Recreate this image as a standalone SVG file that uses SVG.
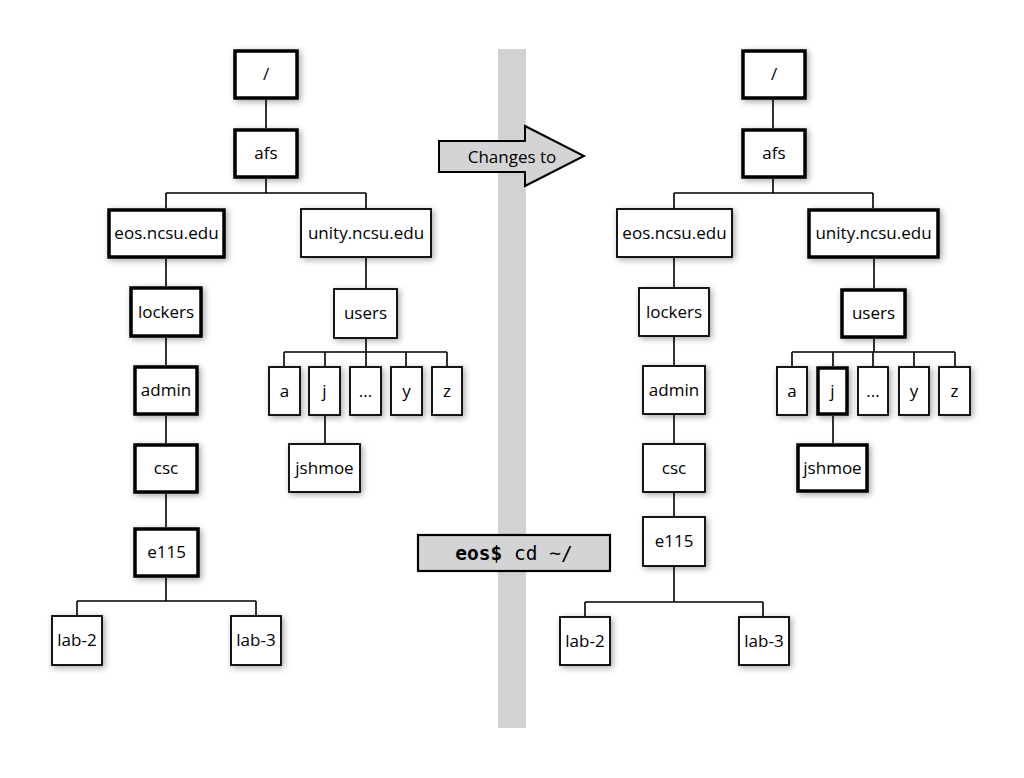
<svg xmlns="http://www.w3.org/2000/svg" width="1024" height="778" viewBox="0 0 1024 778">
<defs>
<filter id="sh" x="-30%" y="-30%" width="160%" height="160%">
<feDropShadow dx="2" dy="2" stdDeviation="3" flood-color="#000" flood-opacity="0.35"/>
</filter>
</defs>
<style>
.n rect{fill:#fff;stroke:#000;filter:url(#sh)}
.thk rect{stroke-width:3.5}
.thn rect{stroke-width:1.8}
text{font-family:"Open Sans","Liberation Sans",sans-serif;font-size:17px;fill:#000;text-anchor:middle}
#connectors path{fill:none;stroke:#000;stroke-width:1.6}
</style>
<rect id="divider" x="498" y="49" width="28" height="679" fill="#d1d2d4"/>
<g id="connectors">
<path d="M266 100V128M266 179V193M166 193H366M166 193V208M366 193V208"/>
<path d="M166 259V286M166 338V365M166 416V443M166 494V527M166 578V601M77 601H256M77 601V615M256 601V615"/>
<path d="M366 258V288M366 339V352M284 352H447M284 352V366M325 352V366M366 352V366M406 352V366M447 352V366M325 416V443"/>
<path d="M773 100V128M773 179V193M674 193H873M674 193V208M873 193V208"/>
<path d="M674 258V287M674 337V365M674 415V443M674 493V516M674 567V602M585 602H763M585 602V616M763 602V616"/>
<path d="M874 259V288M874 339V352M792 352H955M792 352V366M833 352V366M873 352V366M914 352V366M955 352V366M833 416V443"/>
</g>
<g id="L-root" class="n thk"><rect x="235" y="51" width="62" height="47"/><text x="266" y="80">/</text></g>
<g id="L-afs" class="n thk"><rect x="235" y="130" width="62" height="47"/><text x="266" y="159">afs</text></g>
<g id="L-eos" class="n thk"><rect x="109" y="210" width="115" height="47"/><text x="166.5" y="239">eos.ncsu.edu</text></g>
<g id="L-unity" class="n thn"><rect x="301" y="209" width="130" height="48"/><text x="366" y="239">unity.ncsu.edu</text></g>
<g id="L-lockers" class="n thk"><rect x="131" y="288" width="70" height="48"/><text x="166" y="318">lockers</text></g>
<g id="L-admin" class="n thk"><rect x="135" y="367" width="62" height="47"/><text x="166" y="396">admin</text></g>
<g id="L-csc" class="n thk"><rect x="135" y="445" width="62" height="47"/><text x="166" y="474">csc</text></g>
<g id="L-e115" class="n thk"><rect x="135" y="529" width="63" height="47"/><text x="166.5" y="558">e115</text></g>
<g id="L-lab2" class="n thn"><rect x="52" y="616" width="50" height="49"/><text x="77" y="646">lab-2</text></g>
<g id="L-lab3" class="n thn"><rect x="231" y="616" width="50" height="49"/><text x="256" y="646">lab-3</text></g>
<g id="L-users" class="n thn"><rect x="334" y="289" width="63" height="49"/><text x="365.5" y="319">users</text></g>
<g id="L-a" class="n thn"><rect x="269" y="367" width="31" height="48"/><text x="284.5" y="397">a</text></g>
<g id="L-j" class="n thn"><rect x="309" y="367" width="31" height="48"/><text x="324.5" y="397">j</text></g>
<g id="L-dots" class="n thn"><rect x="350" y="367" width="31" height="48"/><text x="365.5" y="397">...</text></g>
<g id="L-y" class="n thn"><rect x="391" y="367" width="31" height="48"/><text x="406.5" y="397">y</text></g>
<g id="L-z" class="n thn"><rect x="432" y="367" width="30" height="48"/><text x="447" y="397">z</text></g>
<g id="L-jshmoe" class="n thn"><rect x="289" y="444" width="71" height="48"/><text x="324.5" y="474">jshmoe</text></g>
<g id="R-root" class="n thk"><rect x="743" y="51" width="62" height="47"/><text x="774" y="80">/</text></g>
<g id="R-afs" class="n thk"><rect x="743" y="130" width="62" height="47"/><text x="774" y="159">afs</text></g>
<g id="R-eos" class="n thn"><rect x="617" y="209" width="115" height="48"/><text x="674.5" y="239">eos.ncsu.edu</text></g>
<g id="R-unity" class="n thk"><rect x="809" y="210" width="129" height="47"/><text x="873.5" y="239">unity.ncsu.edu</text></g>
<g id="R-lockers" class="n thn"><rect x="639" y="288" width="70" height="48"/><text x="674" y="318">lockers</text></g>
<g id="R-admin" class="n thn"><rect x="643" y="366" width="62" height="48"/><text x="674" y="396">admin</text></g>
<g id="R-csc" class="n thn"><rect x="643" y="444" width="62" height="48"/><text x="674" y="474">csc</text></g>
<g id="R-e115" class="n thn"><rect x="643" y="517" width="62" height="49"/><text x="674" y="547">e115</text></g>
<g id="R-lab2" class="n thn"><rect x="560" y="617" width="50" height="48"/><text x="585" y="647">lab-2</text></g>
<g id="R-lab3" class="n thn"><rect x="739" y="617" width="50" height="48"/><text x="764" y="647">lab-3</text></g>
<g id="R-users" class="n thk"><rect x="842" y="290" width="63" height="47"/><text x="873.5" y="319">users</text></g>
<g id="R-a" class="n thn"><rect x="777" y="367" width="30" height="48"/><text x="792" y="397">a</text></g>
<g id="R-j" class="n thk"><rect x="818" y="368" width="29" height="46"/><text x="832.5" y="397">j</text></g>
<g id="R-dots" class="n thn"><rect x="858" y="367" width="30" height="48"/><text x="873" y="397">...</text></g>
<g id="R-y" class="n thn"><rect x="899" y="367" width="30" height="48"/><text x="914" y="397">y</text></g>
<g id="R-z" class="n thn"><rect x="939" y="367" width="31" height="48"/><text x="954.5" y="397">z</text></g>
<g id="R-jshmoe" class="n thk"><rect x="798" y="445" width="69" height="46"/><text x="832.5" y="474">jshmoe</text></g>
<g id="arrow">
<polygon points="439,141 525,141 525,126 584,156 525,186 525,172 439,172" fill="#d4d4d6" stroke="#000" stroke-width="2" stroke-linejoin="miter"/>
<text x="512" y="163">Changes to</text>
</g>
<g id="command">
<rect x="418" y="535" width="192" height="36" fill="#d4d4d6" stroke="#000" stroke-width="2.2"/>
<text x="514" y="560" style="font-family:'DejaVu Sans Mono','Liberation Mono',monospace;font-size:19.5px"><tspan font-weight="bold">eos$</tspan> cd ~/</text>
</g>
</svg>
